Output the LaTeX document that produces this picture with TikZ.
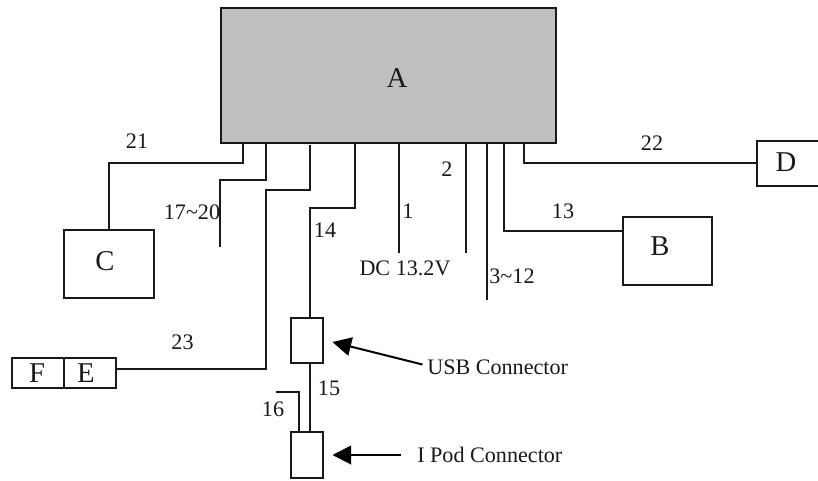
\documentclass[tikz,border=0pt]{standalone}
\usepackage{fontspec}
\setmainfont{Liberation Serif}
\usetikzlibrary{arrows.meta}
\tikzset{
  wire/.style={draw=black!90,line width=1.5pt},
  box/.style={draw=black!90,line width=1.5pt,fill=white,anchor=north west,inner sep=0pt,outer sep=0pt},
  lab/.style={font=\fontsize{16.6pt}{18pt}\selectfont,inner sep=0pt,text=black!90},
  big/.style={font=\fontsize{21.5pt}{23pt}\selectfont,inner sep=0pt,text=black!90},
  point/.style={draw=black,line width=1.5pt,-{Triangle[length=14pt,width=14pt]}}
}
\begin{document}
\begin{tikzpicture}[x=0.75pt,y=-0.75pt]
\useasboundingbox (0,0) rectangle (818,480);
\fill[white] (0,0) rectangle (818,480);
\begin{scope}[shift={(-0.5,-0.5)}]
\node[box,fill=black!25,minimum width=251.25pt,minimum height=101.25pt] (A) at (221.5,8.5) {};
\node[box,minimum width=67.5pt,minimum height=51pt] (C) at (64.5,230.5) {};
\node[box,minimum width=66.75pt,minimum height=51pt] (B) at (623.5,217.5) {};
\node[box,minimum width=49pt,minimum height=33.75pt] (D) at (757.5,141.5) {};
\node[box,minimum width=39pt,minimum height=22.5pt] (E) at (64.5,358.5) {};
\node[box,minimum width=39pt,minimum height=22.5pt] (F) at (12.5,358.5) {};
\node[box,minimum width=24pt,minimum height=33.75pt] (U) at (291.5,318.5) {};
\node[box,minimum width=24pt,minimum height=34.5pt] (P) at (291.5,432.5) {};
\coordinate (w21) at (243.5,143.5);
\coordinate (w17) at (266.5,143.5);
\coordinate (w23) at (310.5,145);
\coordinate (w14) at (355.5,143.5);
\coordinate (w1) at (399.5,143.5);
\coordinate (w2) at (466.5,143.5);
\coordinate (w3) at (487.5,143.5);
\coordinate (w13) at (504.5,143.5);
\coordinate (w22) at (524.5,143.5);
\coordinate (e17) at (220.5,247.7);
\coordinate (e1) at (399.5,253);
\coordinate (e2) at (466.5,253);
\coordinate (e3) at (487.5,300);
\coordinate (e16) at (276.7,392.5);
\coordinate (uT) at (310.5,318.5);
\coordinate (uB) at (310.5,363.5);
\coordinate (pT) at (310.5,432.5);
\coordinate (p16) at (299.5,432.5);
\coordinate (s1) at (423,365);
\coordinate (t1) at (333,342.5);
\coordinate (s2) at (401,455.5);
\coordinate (t2) at (333,455.5);
\draw[wire] (w21) |- (109.5,163.5) -- (C.north);
\draw[wire] (w17) |- (220.5,180.5) -- (e17);
\draw[wire] (w23) |- (266.5,190.5) -- (266.5,369.5) -- (E.east |- 0,369.5);
\draw[wire] (w14) |- (310.5,208.5) -- (uT);
\draw[wire] (w1) -- (e1);
\draw[wire] (w2) -- (e2);
\draw[wire] (w3) -- (e3);
\draw[wire] (w13) |- (B.west |- 0,231.5);
\draw[wire] (w22) |- (D.west |- 0,163.5);
\draw[wire] (uB) -- (pT);
\draw[wire] (p16) |- (e16);
\draw[point] (s1) -- (t1);
\draw[point] (s2) -- (t2);
\end{scope}
\node[big] (tA) at (397,78) {A};
\node[big] (tC) at (105,261) {C};
\node[big] (tB) at (660,246) {B};
\node[big] (tD) at (786,162) {D};
\node[big] (tE) at (86,373) {E};
\node[big] (tF) at (37,373) {F};
\node[lab] (n21) at (137,141) {21};
\node[lab] (n22) at (652,143) {22};
\node[lab] (n17) at (192,212) {17\char`\~20};
\node[lab] (n14) at (325,230) {14};
\node[lab] (n1) at (408,211) {1};
\node[lab] (n2) at (447,169) {2};
\node[lab] (ndc) at (405,268) {DC 13.2V};
\node[lab] (n3) at (512,276) {3\char`\~12};
\node[lab] (n13) at (563,211) {13};
\node[lab] (n23) at (182.5,342) {23};
\node[lab] (n15) at (329,388) {15};
\node[lab] (n16) at (273,409) {16};
\node[lab,anchor=west] (nusb) at (427,367) {USB Connector};
\node[lab,anchor=west] (nipod) at (417,455) {I Pod Connector};
\end{tikzpicture}
\end{document}
